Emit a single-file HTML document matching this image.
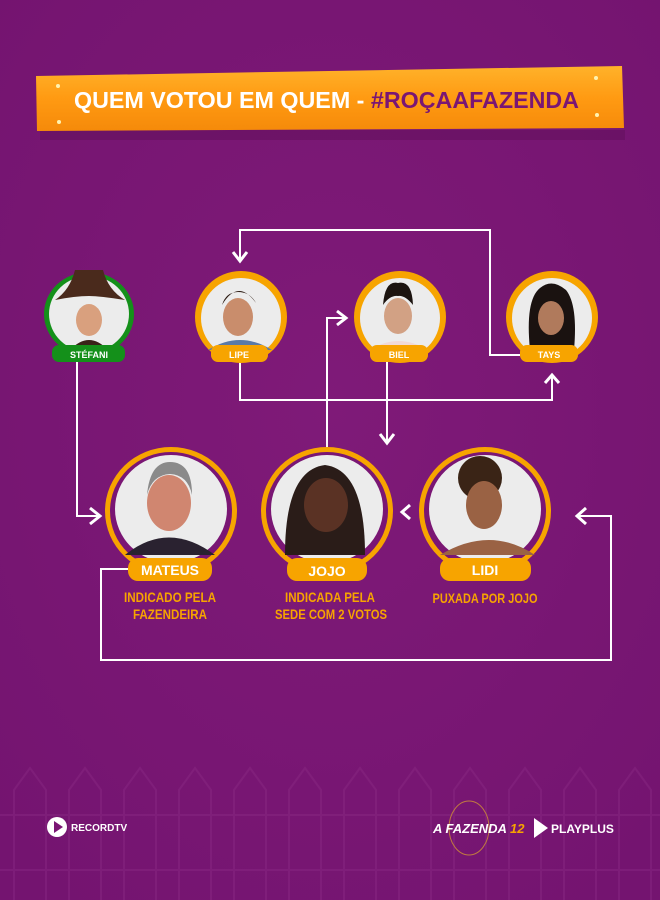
<!DOCTYPE html>
<html><head><meta charset="utf-8"><style>
html,body{margin:0;padding:0;background:#7a1674;}
svg{display:block}
text{font-family:"Liberation Sans",sans-serif;font-weight:bold}
.cond{font-family:"Liberation Sans Narrow","Liberation Sans",sans-serif;}
</style></head><body>
<svg width="660" height="900" viewBox="0 0 660 900" xmlns="http://www.w3.org/2000/svg">
<defs>
<radialGradient id="bg" cx="50%" cy="45%" r="70%">
<stop offset="0" stop-color="#7f1a78"/><stop offset="1" stop-color="#741470"/></radialGradient>
<linearGradient id="wood" x1="0" y1="0" x2="0" y2="1">
<stop offset="0" stop-color="#ffb22a"/><stop offset="0.5" stop-color="#ff9a12"/><stop offset="1" stop-color="#f58a0a"/></linearGradient>
<radialGradient id="glow"><stop offset="0" stop-color="#a04096" stop-opacity=".5"/><stop offset="1" stop-color="#7a1674" stop-opacity="0"/></radialGradient>
</defs>
<rect width="660" height="900" fill="url(#bg)"/>
<!-- fence -->
<g fill="none" stroke="#8a2a84" stroke-width="2" opacity=".45">
<path d="M0 870 L660 870 M0 815 L660 815"/>
<g id="p"><path d="M14 900 V790 L30 768 L46 790 V900"/></g>
<use href="#p" x="55"/><use href="#p" x="110"/><use href="#p" x="165"/><use href="#p" x="220"/><use href="#p" x="275"/><use href="#p" x="330"/><use href="#p" x="385"/><use href="#p" x="440"/><use href="#p" x="495"/><use href="#p" x="550"/><use href="#p" x="605"/>
</g>
<!-- board -->
<rect x="40" y="130" width="585" height="10" fill="#5f0f5a" opacity=".5"/>
<polygon points="36,76 622,66 624,128 37,131" fill="url(#wood)"/>
<circle cx="58" cy="86" r="2" fill="#fff3b0"/><circle cx="59" cy="122" r="2" fill="#fff3b0"/>
<circle cx="596" cy="78" r="2" fill="#fff3b0"/><circle cx="597" cy="115" r="2" fill="#fff3b0"/>
<text x="74" y="108" font-size="23" fill="#fff" textLength="505" lengthAdjust="spacingAndGlyphs">QUEM VOTOU EM QUEM - <tspan fill="#7a1674">#ROÇAAFAZENDA</tspan></text>
<!-- connectors -->
<g fill="none" stroke="#fff" stroke-width="2">
<path d="M520 355 H490 V230 H240 V260"/>
<path d="M240 362 V400 H552 V376"/>
<path d="M387 362 V443"/>
<path d="M327 447 V318 H346"/>
<path d="M77 362 V516 H100"/>
<path d="M130 569 H101 V660 H611 V516 H578"/>
</g>
<g fill="none" stroke="#fff" stroke-width="3">
<path d="M233 252 L240 261 L247 252"/>
<path d="M545 383 L552 375 L559 383"/>
<path d="M380 434 L387 443 L394 434"/>
<path d="M337 311 L346 318 L337 325"/>
<path d="M90 508 L100 516 L90 524"/>
<path d="M586 508 L577 516 L586 524"/>
<path d="M410 505 L402 512 L410 519"/>
</g>
<!-- top row -->
<g>
<ellipse cx="89" cy="312" rx="48" ry="48" fill="url(#glow)"/>
<ellipse cx="89" cy="314" rx="45" ry="42" fill="#14901a"/>
<ellipse cx="89" cy="314" rx="40" ry="38" fill="#ececec"/>
<path d="M55 300 Q70 290 75 270 H103 Q108 290 125 300 Q100 296 89 296 Q75 296 55 300Z" fill="#4a2a1c"/>
<ellipse cx="89" cy="320" rx="13" ry="16" fill="#d9a07e"/>
<path d="M70 350 Q89 330 108 350Z" fill="#3a2218"/>
<rect x="52" y="345" width="73" height="17" rx="7" fill="#14901a"/>
<text x="89" y="358" font-size="9" fill="#fff" text-anchor="middle">STÉFANI</text>
</g>
<g>
<ellipse cx="241" cy="317" rx="46" ry="46" fill="#f7a400"/>
<ellipse cx="241" cy="318" rx="40" ry="40" fill="#ececec"/>
<ellipse cx="238" cy="317" rx="15" ry="19" fill="#c98d6c"/><path d="M222 305 Q238 278 256 303 Q250 292 238 292 Q226 292 222 305Z" fill="#2b1a12"/>
<path d="M208 350 Q240 330 272 350Z" fill="#5a7aa8"/>
<rect x="211" y="345" width="57" height="17" rx="7" fill="#f7a400"/>
<text x="239" y="358" font-size="9" fill="#fff" text-anchor="middle">LIPE</text>
</g>
<g>
<ellipse cx="400" cy="317" rx="46" ry="46" fill="#f7a400"/>
<ellipse cx="400" cy="318" rx="40" ry="40" fill="#ececec"/>
<ellipse cx="398" cy="316" rx="14" ry="18" fill="#d2a184"/><path d="M383 305 Q385 280 398 283 Q412 280 413 305 Q405 295 398 296 Q390 295 383 305Z" fill="#1c1410"/>
<path d="M370 350 Q398 332 428 350Z" fill="#f1d9d6"/>
<rect x="370" y="345" width="58" height="17" rx="7" fill="#f7a400"/>
<text x="399" y="358" font-size="9" fill="#fff" text-anchor="middle">BIEL</text>
</g>
<g>
<ellipse cx="552" cy="317" rx="46" ry="46" fill="#f7a400"/>
<ellipse cx="552" cy="318" rx="40" ry="40" fill="#ececec"/>
<path d="M530 350 Q525 300 540 288 Q552 278 566 290 Q578 305 574 350Z" fill="#1a1210"/>
<ellipse cx="551" cy="318" rx="13" ry="17" fill="#b07a5c"/>
<rect x="520" y="345" width="58" height="17" rx="7" fill="#f7a400"/>
<text x="549" y="358" font-size="9" fill="#fff" text-anchor="middle">TAYS</text>
</g>
<!-- bottom row -->
<g>
<ellipse cx="171" cy="511" rx="74" ry="74" fill="url(#glow)"/>
<ellipse cx="171" cy="511" rx="66" ry="64" fill="#f7a400"/>
<ellipse cx="171" cy="511" rx="61" ry="59" fill="#7a1674"/>
<ellipse cx="171" cy="509" rx="56" ry="54" fill="#ececec"/>
<ellipse cx="169" cy="503" rx="22" ry="28" fill="#d08670"/><path d="M147 495 Q150 462 170 462 Q192 462 192 495 Q188 475 170 474 Q152 475 147 495Z" fill="#8a8a8a"/>
<path d="M125 555 Q168 520 215 555Z" fill="#2a2230"/>
<rect x="128" y="558" width="84" height="23" rx="10" fill="#f7a400"/>
<text x="170" y="575" font-size="14" fill="#fff" text-anchor="middle">MATEUS</text>
<text class="cond" x="170" y="602" font-size="14" fill="#f7a400" text-anchor="middle" textLength="92" lengthAdjust="spacingAndGlyphs">INDICADO PELA</text>
<text class="cond" x="170" y="619" font-size="14" fill="#f7a400" text-anchor="middle" textLength="74" lengthAdjust="spacingAndGlyphs">FAZENDEIRA</text>
</g>
<g>
<ellipse cx="327" cy="511" rx="74" ry="74" fill="url(#glow)"/>
<ellipse cx="327" cy="511" rx="66" ry="64" fill="#f7a400"/>
<ellipse cx="327" cy="511" rx="61" ry="59" fill="#7a1674"/>
<ellipse cx="327" cy="509" rx="56" ry="54" fill="#ececec"/>
<path d="M285 555 Q285 470 325 465 Q365 470 365 555Z" fill="#2a1c18"/>
<ellipse cx="326" cy="505" rx="22" ry="27" fill="#5a3224"/>
<rect x="287" y="558" width="80" height="23" rx="10" fill="#f7a400"/>
<text x="327" y="576" font-size="14" fill="#fff" text-anchor="middle">JOJO</text>
<text class="cond" x="330" y="602" font-size="14" fill="#f7a400" text-anchor="middle" textLength="90" lengthAdjust="spacingAndGlyphs">INDICADA PELA</text>
<text class="cond" x="331" y="619" font-size="14" fill="#f7a400" text-anchor="middle" textLength="112" lengthAdjust="spacingAndGlyphs">SEDE COM 2 VOTOS</text>
</g>
<g>
<ellipse cx="485" cy="511" rx="74" ry="74" fill="url(#glow)"/>
<ellipse cx="485" cy="511" rx="66" ry="64" fill="#f7a400"/>
<ellipse cx="485" cy="511" rx="61" ry="59" fill="#7a1674"/>
<ellipse cx="485" cy="509" rx="56" ry="54" fill="#ececec"/>
<circle cx="480" cy="478" r="22" fill="#3a2416"/>
<ellipse cx="484" cy="505" rx="18" ry="24" fill="#9a6244"/>
<path d="M440 555 Q490 525 535 555Z" fill="#9a6244"/>
<rect x="440" y="558" width="91" height="23" rx="10" fill="#f7a400"/>
<text x="485" y="575" font-size="14" fill="#fff" text-anchor="middle">LIDI</text>
<text class="cond" x="485" y="603" font-size="14" fill="#f7a400" text-anchor="middle" textLength="105" lengthAdjust="spacingAndGlyphs">PUXADA POR JOJO</text>
</g>
<!-- logos -->
<circle cx="57" cy="827" r="10" fill="#fff"/><path d="M54 821 L63 827 L54 833Z" fill="#7a1674"/>
<text x="71" y="831" font-size="10" fill="#fff">RECORDTV</text>
<ellipse cx="469" cy="828" rx="20" ry="27" fill="none" stroke="#c07a40" stroke-width="1"/>
<text x="433" y="833" font-size="13" fill="#fff" font-style="italic">A FAZENDA <tspan fill="#f7a400">12</tspan></text>
<path d="M534 818 L548 828 L534 838Z" fill="#fff"/>
<text x="551" y="833" font-size="12" fill="#fff" font-weight="normal">PLAYPLUS</text>
</svg>
</body></html>
